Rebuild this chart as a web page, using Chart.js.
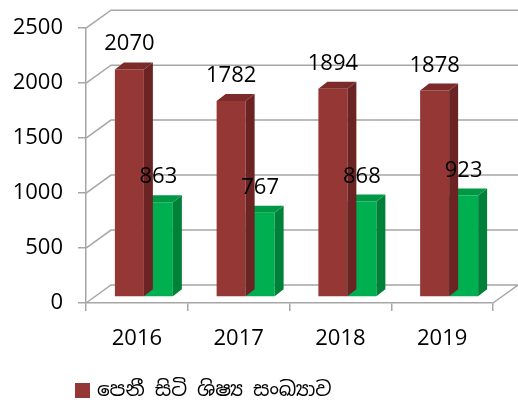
<!DOCTYPE html>
<html>
<head>
<meta charset="utf-8">
<script src="https://cdn.jsdelivr.net/npm/chart.js@4/dist/chart.umd.min.js"></script>
<style>
  html, body { margin: 0; padding: 0; background: #ffffff; }
  #wrap { width: 518px; height: 403px; }
</style>
</head>
<body>
<div id="wrap"><canvas id="c" width="518" height="403"></canvas></div>
<script>
// Data
const years = ['2016', '2017', '2018', '2019'];
const legendLabel = 'පෙනී සිටි ශිෂ්‍ය සංඛ්‍යාව';
const appeared = [2070, 1782, 1894, 1878];
const secondCounts = [863, 767, 868, 923];
const yTickValues = [0, 500, 1000, 1500, 2000, 2500];

// Look
const FONT = '"Open Sans", "DejaVu Sans", sans-serif';
const SINHALA_FONT = '"Noto Sans Sinhala", "Iskoola Pota", ' + FONT;
const SHIFT = { x: 7, y: -6 };   // bars stand slightly behind the front plane
const DEPTH = { x: 9, y: -7 };   // depth of each bar
const WALL = { x: 25, y: -18 };  // depth of the floor / back wall
const GRID = '#a6a6a6';
const faces = [
  { front: '#953735', side: '#6b2423', top: '#7c2b2a' },
  { front: '#00b050', side: '#00813a', top: '#009845' }
];

const frame3d = {
  id: 'frame3d',
  beforeDatasetsDraw(chart) {
    const { ctx, chartArea: a, scales: { y } } = chart;
    ctx.save();
    ctx.strokeStyle = GRID;
    ctx.lineWidth = 1.5;
    ctx.beginPath();
    yTickValues.forEach(v => {
      const py = y.getPixelForValue(v);
      ctx.moveTo(a.left, py);
      ctx.lineTo(a.left + WALL.x, py + WALL.y);
      ctx.lineTo(chart.width, py + WALL.y);
    });
    ctx.moveTo(a.right, a.bottom);
    ctx.lineTo(a.right + WALL.x, a.bottom + WALL.y);
    ctx.stroke();
    ctx.restore();
  },
  beforeDatasetDraw(chart) {
    chart.ctx.save();
    chart.ctx.translate(SHIFT.x, SHIFT.y);
  },
  afterDatasetDraw(chart, args) {
    const ctx = chart.ctx;
    const f = faces[args.index];
    args.meta.data.forEach(bar => {
      const { x, y, base, width } = bar.getProps(['x', 'y', 'base', 'width'], true);
      const l = x - width / 2, r = x + width / 2;
      ctx.fillStyle = f.side;
      ctx.beginPath();
      ctx.moveTo(r, y);
      ctx.lineTo(r + DEPTH.x, y + DEPTH.y);
      ctx.lineTo(r + DEPTH.x, base + DEPTH.y);
      ctx.lineTo(r, base);
      ctx.closePath();
      ctx.fill();
      ctx.fillStyle = f.top;
      ctx.beginPath();
      ctx.moveTo(l, y);
      ctx.lineTo(l + DEPTH.x, y + DEPTH.y);
      ctx.lineTo(r + DEPTH.x, y + DEPTH.y);
      ctx.lineTo(r, y);
      ctx.closePath();
      ctx.fill();
    });
    ctx.restore();
  },
  afterDatasetsDraw(chart) {
    const ctx = chart.ctx;
    ctx.save();
    ctx.fillStyle = '#000000';
    ctx.font = '22px ' + FONT;
    ctx.textAlign = 'center';
    ctx.textBaseline = 'alphabetic';
    chart.data.datasets.forEach((ds, i) => {
      chart.getDatasetMeta(i).data.forEach((bar, j) => {
        const { x, y } = bar.getProps(['x', 'y'], true);
        ctx.fillText(String(ds.data[j]), x + SHIFT.x, y + SHIFT.y - 19);
      });
    });
    ctx.restore();
  },
  afterDraw(chart) {
    const ctx = chart.ctx;
    ctx.save();
    ctx.fillStyle = chart.data.datasets[0].backgroundColor;
    ctx.fillRect(75, 383, 15, 15);
    ctx.fillStyle = '#000000';
    ctx.font = '20px ' + SINHALA_FONT;
    ctx.textAlign = 'left';
    ctx.textBaseline = 'middle';
    ctx.fillText(chart.data.datasets[0].label, 97, 390);
    ctx.restore();
  }
};

new Chart(document.getElementById('c'), {
  type: 'bar',
  data: {
    labels: years,
    datasets: [
      { label: legendLabel, data: appeared, backgroundColor: faces[0].front, clip: false },
      { label: '', data: secondCounts, backgroundColor: faces[1].front, clip: false }
    ]
  },
  options: {
    responsive: false,
    animation: false,
    events: [],
    layout: { padding: { top: 25, right: 25, left: 0, bottom: 0 } },
    datasets: { bar: { categoryPercentage: 0.57, barPercentage: 1 } },
    plugins: { legend: { display: false }, tooltip: { enabled: false } },
    scales: {
      x: {
        grid: { display: true, drawOnChartArea: false, drawTicks: true, tickLength: 8, color: GRID, lineWidth: 1.5 },
        border: { display: true, color: GRID, width: 1.5 },
        ticks: { color: '#000000', font: { family: FONT, size: 22 }, padding: 15 },
        afterFit(scale) { scale.height = 100; }
      },
      y: {
        min: 0,
        max: 2500,
        afterBuildTicks(scale) { scale.ticks = yTickValues.map(v => ({ value: v })); },
        grid: { display: true, drawOnChartArea: false, drawTicks: true, tickLength: 8, color: GRID, lineWidth: 1.5 },
        border: { display: true, color: GRID, width: 1.5 },
        ticks: {
          color: '#000000',
          font: { family: FONT, size: 22 },
          padding: 15,
          callback: v => String(v)
        },
        afterFit(scale) { scale.width = 86; }
      }
    }
  },
  plugins: [frame3d]
});
</script>
</body>
</html>
